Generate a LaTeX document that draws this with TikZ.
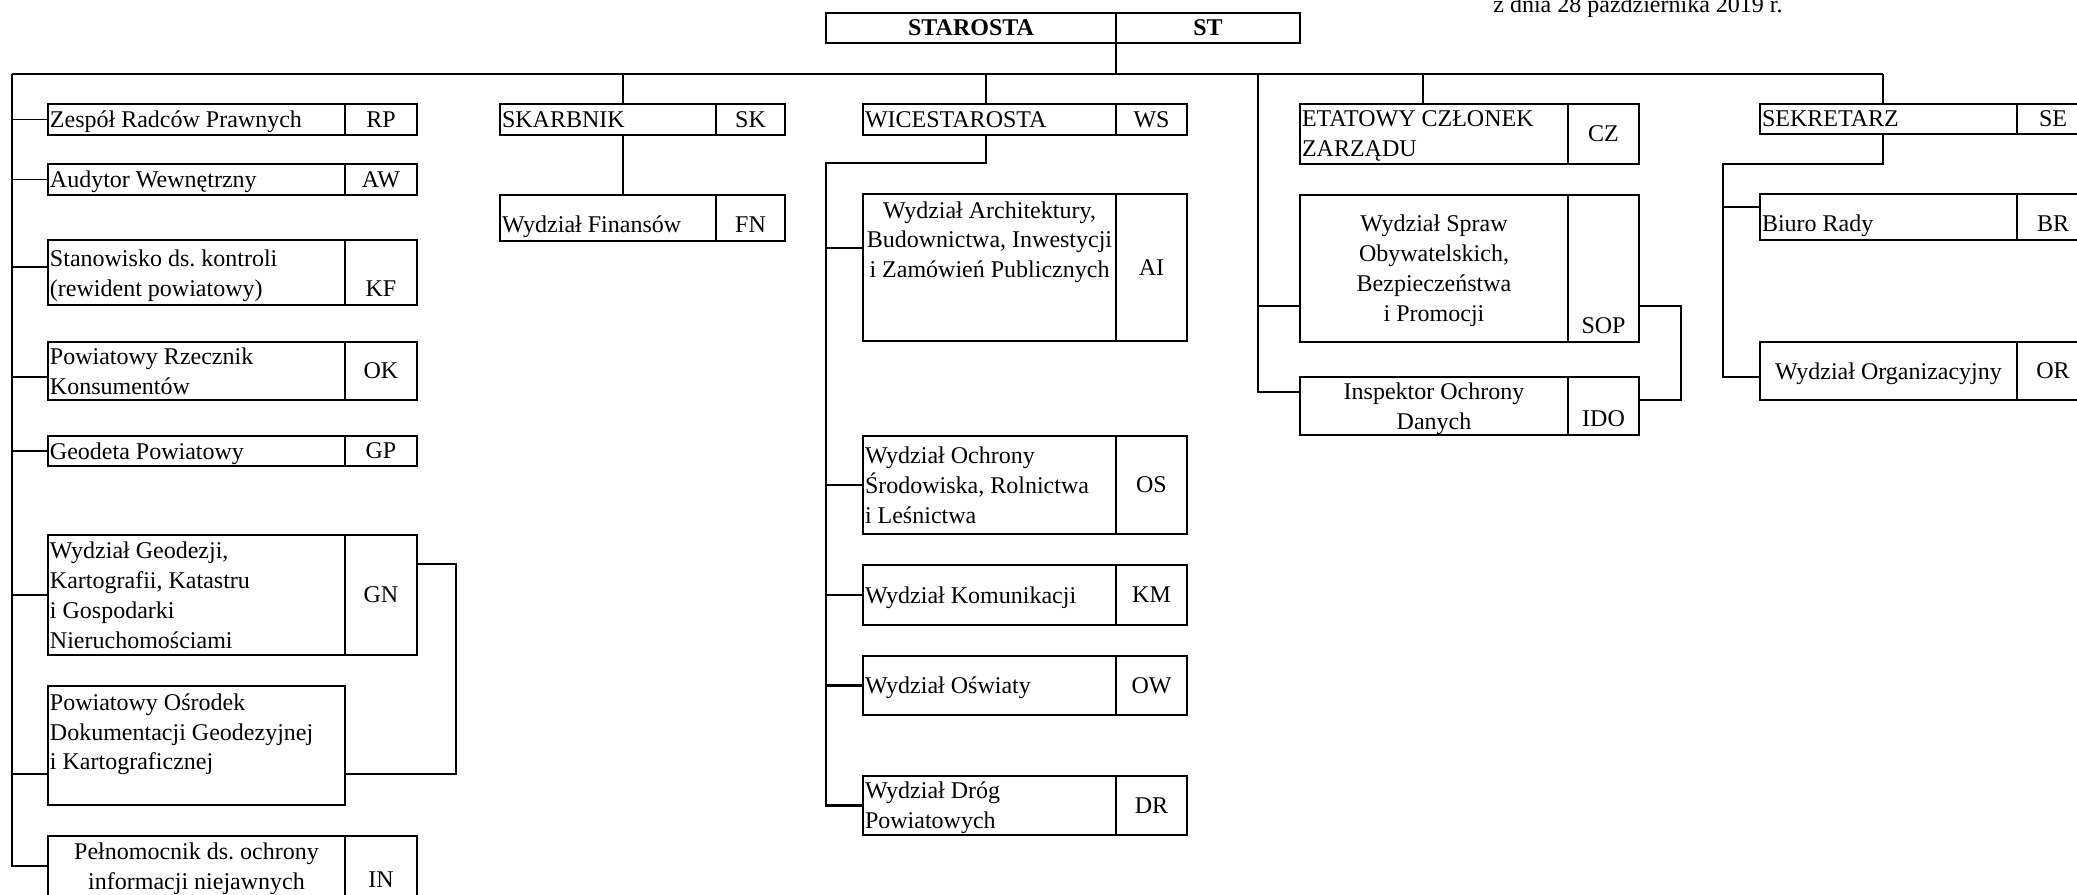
\documentclass[tikz,border=0pt]{standalone}
\usepackage{fontspec}
\setmainfont{Liberation Serif}
\usepackage{tikz}
\usetikzlibrary{positioning}
\newlength{\pxu}\setlength{\pxu}{0.02cm}
\newcommand{\cellin}[4]{\parbox[c][\dimexpr#2\pxu-6\pxu\relax][#3]{\dimexpr#1\pxu-4\pxu\relax}{\if c#3\vspace*{5\pxu}\fi#4\vrule width0pt depth0.22em\par\vskip0pt}}
\hyphenpenalty=10000
\frenchspacing
\tikzset{
  cell/.style={draw, line width=1.5pt, inner xsep=2\pxu, inner ysep=3\pxu, outer sep=0pt, anchor=north west},
  fat/.style={line width=1.5pt},
  slim/.style={line width=0.6pt}
}
\begin{document}
\begin{tikzpicture}[x=0.02cm, y=-0.02cm, font=\fontsize{13.66}{17.07}\selectfont]
\useasboundingbox (0,0) rectangle (2077,894);
\node[anchor=base west, inner sep=0pt] (datum) at (1493,12) {z dnia 28 października 2019 r.};

\node[cell] (STn) at (826,13) {\cellin{290}{30}{c}{\centering\bfseries STAROSTA}};
\node[cell, right=0pt of STn] (STc) {\cellin{184}{30}{c}{\centering\bfseries ST}};

% lewa kolumna
\node[cell] (RPn) at (48,104) {\cellin{297}{31}{c}{\raggedright Zespół Radców Prawnych}};
\node[cell, right=0pt of RPn] (RPc) {\cellin{72}{31}{c}{\centering RP}};
\node[cell] (AWn) at (48,164) {\cellin{297}{31}{c}{\raggedright Audytor Wewnętrzny}};
\node[cell, right=0pt of AWn] (AWc) {\cellin{72}{31}{c}{\centering AW}};
\node[cell] (KFn) at (48,240) {\cellin{297}{65}{b}{\raggedright Stanowisko ds. kontroli\\(rewident powiatowy)}};
\node[cell, right=0pt of KFn] (KFc) {\cellin{72}{65}{b}{\centering KF}};
\node[cell] (OKn) at (48,342) {\cellin{297}{58}{c}{\raggedright Powiatowy Rzecznik\\Konsumentów}};
\node[cell, right=0pt of OKn] (OKc) {\cellin{72}{58}{c}{\centering OK}};
\node[cell] (GPn) at (48,436) {\cellin{297}{30}{c}{\raggedright Geodeta Powiatowy}};
\node[cell, right=0pt of GPn] (GPc) {\cellin{72}{30}{c}{\centering GP}};
\node[cell] (GNn) at (48,535) {\cellin{297}{120}{c}{\raggedright Wydział Geodezji,\\Kartografii, Katastru\\i Gospodarki\\Nieruchomościami}};
\node[cell, right=0pt of GNn] (GNc) {\cellin{72}{120}{c}{\centering GN}};
\node[cell] (PODn) at (48,686) {\cellin{297}{119}{t}{\raggedright\strut Powiatowy Ośrodek\\Dokumentacji Geodezyjnej\\i Kartograficznej}};
\node[cell] (INn) at (48,836) {\cellin{297}{60}{c}{\centering Pełnomocnik ds. ochrony\\informacji niejawnych}};
\node[cell, right=0pt of INn] (INc) {\cellin{72}{60}{b}{\centering IN}};

% skarbnik
\node[cell] (SKn) at (500,104) {\cellin{216}{31}{c}{\raggedright SKARBNIK}};
\node[cell, right=0pt of SKn] (SKc) {\cellin{69}{31}{c}{\centering SK}};
\node[cell] (FNn) at (500,195) {\cellin{216}{46}{b}{\raggedright Wydział Finansów}};
\node[cell, right=0pt of FNn] (FNc) {\cellin{69}{46}{b}{\centering FN}};

% wicestarosta
\node[cell] (WSn) at (863,104) {\cellin{253}{31}{c}{\raggedright WICESTAROSTA}};
\node[cell, right=0pt of WSn] (WSc) {\cellin{71}{31}{c}{\centering WS}};
\node[cell] (AIn) at (863,194) {\cellin{253}{147}{t}{\centering\strut Wydział Architektury,\\Budownictwa, Inwestycji\\i Zamówień Publicznych}};
\node[cell, right=0pt of AIn] (AIc) {\cellin{71}{147}{c}{\centering AI}};
\node[cell] (OSn) at (863,436) {\cellin{253}{98}{c}{\raggedright Wydział Ochrony\\Środowiska, Rolnictwa\\i Leśnictwa}};
\node[cell, right=0pt of OSn] (OSc) {\cellin{71}{98}{c}{\centering OS}};
\node[cell] (KMn) at (863,565) {\cellin{253}{60}{c}{\raggedright Wydział Komunikacji}};
\node[cell, right=0pt of KMn] (KMc) {\cellin{71}{60}{c}{\centering KM}};
\node[cell] (OWn) at (863,656) {\cellin{253}{59}{c}{\raggedright Wydział Oświaty}};
\node[cell, right=0pt of OWn] (OWc) {\cellin{71}{59}{c}{\centering OW}};
\node[cell] (DRn) at (863,776) {\cellin{253}{59}{c}{\raggedright Wydział Dróg\\Powiatowych}};
\node[cell, right=0pt of DRn] (DRc) {\cellin{71}{59}{c}{\centering DR}};

% czlonek zarzadu
\node[cell] (CZn) at (1300,104) {\cellin{268}{60}{c}{\raggedright ETATOWY CZŁONEK\\ZARZĄDU}};
\node[cell, right=0pt of CZn] (CZc) {\cellin{71}{60}{c}{\centering CZ}};
\node[cell] (SOPn) at (1300,195) {\cellin{268}{147}{c}{\centering Wydział Spraw\\Obywatelskich,\\Bezpieczeństwa\\i Promocji}};
\node[cell, right=0pt of SOPn] (SOPc) {\cellin{71}{147}{b}{\centering SOP}};
\node[cell] (IDOn) at (1300,377) {\cellin{268}{58}{c}{\centering Inspektor Ochrony\\Danych}};
\node[cell, right=0pt of IDOn] (IDOc) {\cellin{71}{58}{b}{\centering IDO}};

% sekretarz
\node[cell] (SEn) at (1760,104) {\cellin{257}{30}{c}{\raggedright SEKRETARZ}};
\node[cell, right=0pt of SEn] (SEc) {\cellin{72}{30}{c}{\centering SE}};
\node[cell] (BRn) at (1760,194) {\cellin{257}{46}{b}{\raggedright Biuro Rady}};
\node[cell, right=0pt of BRn] (BRc) {\cellin{72}{46}{b}{\centering BR}};
\node[cell] (ORn) at (1760,342) {\cellin{257}{58}{c}{\centering Wydział Organizacyjny}};
\node[cell, right=0pt of ORn] (ORc) {\cellin{72}{58}{c}{\centering OR}};

% linie
\coordinate (busL) at (12,74);
\coordinate (busR) at (1883,74);
\coordinate (skx) at (623,74);
\coordinate (wsx) at (986,74);
\coordinate (czbus) at (1258,74);
\coordinate (czx) at (1423,74);
\coordinate (wsbus) at (826,163);
\coordinate (sebus) at (1723,164);
\coordinate (kfin) at ([yshift=0.11cm]KFn.west);
\coordinate (okin) at ([yshift=-0.12cm]OKn.west);
\coordinate (podin) at ([yshift=-0.57cm]PODn.west);
\coordinate (podout) at ([yshift=-0.57cm]PODn.east);
\coordinate (gnout) at ([yshift=0.62cm]GNc.east);
\coordinate (aiin) at ([yshift=0.39cm]AIn.west);
\coordinate (sopin) at ([yshift=-0.75cm]SOPn.west);
\coordinate (sopout) at ([yshift=-0.75cm]SOPc.east);
\coordinate (idoin) at ([yshift=0.28cm]IDOn.west);
\coordinate (idoout) at ([yshift=0.12cm]IDOc.east);
\coordinate (brin) at ([yshift=0.2cm]BRn.west);
\coordinate (orin) at ([yshift=-0.12cm]ORn.west);

\draw[fat] (busL) -- (busR);
\draw[fat] (STn.south east) -- (STn.south east |- busL);

\draw[fat] (busL) |- (INn.west);
\draw[slim] (busL |- RPn.west) -- (RPn.west);
\draw[slim] (busL |- AWn.west) -- (AWn.west);
\draw[slim] (busL |- kfin) -- (kfin);
\draw[fat] (busL |- okin) -- (okin);
\draw[slim] (busL |- GPn.west) -- (GPn.west);
\draw[slim] (busL |- GNn.west) -- (GNn.west);
\draw[fat] (busL |- podin) -- (podin);
\draw[fat] (gnout) -- ++(39,0) |- (podout);

\draw[fat] (skx) -- (skx |- SKn.north);
\draw[fat] (skx |- SKn.south) -- (skx |- FNn.north);

\draw[fat] (wsx) -- (wsx |- WSn.north);
\draw[fat] (wsx |- WSn.south) |- (wsbus) |- (DRn.west);
\draw[fat] (wsbus |- aiin) -- (aiin);
\draw[slim] (wsbus |- OSn.west) -- (OSn.west);
\draw[fat] (wsbus |- KMn.west) -- (KMn.west);
\draw[fat] (wsbus |- OWn.west) -- (OWn.west);

\draw[fat] (czx) -- (czx |- CZn.north);
\draw[fat] (czbus) |- (idoin);
\draw[fat] (czbus |- sopin) -- (sopin);
\draw[fat] (sopout) -- ++(42,0) |- (idoout);

\draw[fat] (busR) -- (busR |- SEn.north);
\draw[fat] (busR |- SEn.south) |- (sebus) |- (orin);
\draw[slim] (sebus |- brin) -- (brin);
\end{tikzpicture}
\end{document}
